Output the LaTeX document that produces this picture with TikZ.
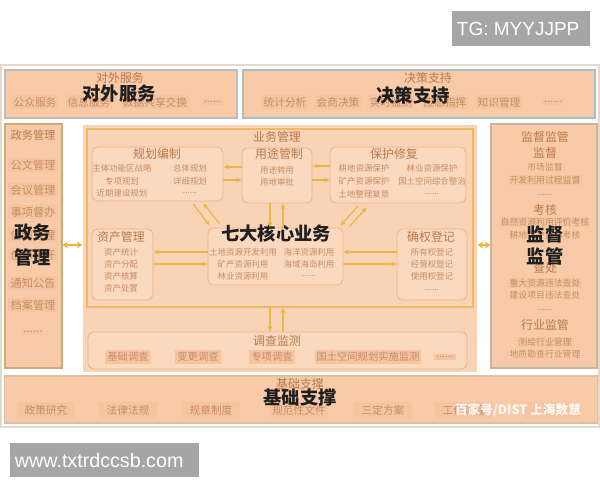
\documentclass[tikz,border=0pt]{standalone}
\usepackage{fontspec}
\setmainfont{Noto Sans CJK SC}
\newfontfamily\wmfont{Liberation Sans}
\usetikzlibrary{positioning, calc, arrows.meta}

\definecolor{peach}{HTML}{F8CAA8}
\definecolor{zonec}{HTML}{F9D3B5}
\definecolor{subfill}{HTML}{FAD9BF}
\definecolor{subline}{HTML}{E6B48C}
\definecolor{itemc}{HTML}{F5C4A0}
\definecolor{txtc}{HTML}{C68D63}
\definecolor{ttlc}{HTML}{B8794C}
\definecolor{bordA}{HTML}{B9BDBF}
\definecolor{bordB}{HTML}{A6BFC0}
\definecolor{bordC}{HTML}{C6AE78}
\definecolor{bordD}{HTML}{C4B4A2}
\definecolor{bordE}{HTML}{D9C2A8}
\definecolor{ywline}{HTML}{F0B865}
\definecolor{arrc}{HTML}{E8B942}
\definecolor{framec}{HTML}{E6D9CC}
\definecolor{wmgray}{HTML}{A6A6A6}

\newcommand\szsmall{\fontsize{6}{7}\selectfont}
\newcommand\szright{\fontsize{6.3}{7.5}\selectfont}
\newcommand\szmid{\fontsize{7.6}{9}\selectfont}
\newcommand\szttl{\fontsize{8.5}{10}\selectfont}
\newcommand\szbig{\fontsize{13}{15}\selectfont\bfseries}
\newcommand\sixdots{......}

\begin{document}
\begin{tikzpicture}[x=0.025cm, y=-0.025cm,
  panel/.style={draw, fill=peach, line width=0.8pt, inner sep=0pt},
  subbox/.style={draw=subline, fill=subfill, rounded corners=4pt, line width=0.6pt, inner sep=0pt},
  ttl/.style={font=\szttl, text=ttlc, inner sep=0pt},
  itm/.style={fill=itemc, text=txtc, inner sep=1.5pt},
  txt/.style={font=\szsmall, text=txtc, inner sep=0pt},
  rtxt/.style={font=\szright, text=txtc, inner sep=0.8pt},
  big/.style={font=\szbig, text=black!88, inner sep=0pt},
  arr/.style={draw=arrc, line width=0.9pt, -{Stealth[length=4pt,width=3.5pt]}},
  dbl/.style={draw=arrc, line width=1.6pt, {Stealth[length=4pt,width=5pt]}-{Stealth[length=4pt,width=5pt]}},
  graybox/.style={fill=wmgray, inner sep=0pt},
  graytxt/.style={font=\wmfont\fontsize{13.5}{15}\selectfont, text=white, inner sep=0pt}]

\useasboundingbox (0,0) rectangle (600,480);

% outer frame
\draw[framec, fill=white, line width=0.8pt] (1,65) rectangle (599,427);

% top: 对外服务
\node[panel, draw=bordA, minimum width=5.8cm, minimum height=1.2cm] (dwfw) at (121,94) {};
\node[ttl] (dwfwt) at (120,78) {对外服务};
\foreach \x/\t [count=\i] in {35/公众服务,89/信息服务,155/数据共享交换,213/\sixdots}
  \node[itm, font=\szmid] (dw\i) at (\x,102) {\t};
\node[big] (dwfwb) at (119,94) {对外服务};

% top: 决策支持
\node[panel, draw=bordB, minimum width=8.8cm, minimum height=1.2cm] (jczc) at (419,94) {};
\node[ttl] (jczct) at (428,78) {决策支持};
\foreach \x/\t [count=\i] in {285/统计分析,338/会商决策,391/实时监测,445/应急指挥,499/知识管理,553/\sixdots}
  \node[itm, font=\szmid] (jc\i) at (\x,102) {\t};
\node[big] (jczcb) at (413,95) {决策支持};

% left: 政务管理
\node[panel, draw=bordC, minimum width=1.425cm, minimum height=6.1cm] (zwgl) at (33.5,246) {};
\node[ttl, font=\fontsize{8}{9}\selectfont] (zwglt) at (33,135) {政务管理};
\foreach \y/\t [count=\i] in {165/公文管理,190/会议管理,212/事项督办,235/信访管理,255/信息公开,283/通知公告,305/档案管理,332/\sixdots}
  \node[itm, font=\fontsize{8}{9}\selectfont] (zw\i) at (33,\y) {\t};
\node[big] (zwglb1) at (33,233) {政务};
\node[big] (zwglb2) at (33,257) {管理};

% centre: 业务管理
\node[panel, draw=none, fill=zonec, minimum width=9.85cm, minimum height=6.175cm] (zone) at (280,248.5) {};
\node[panel, draw=ywline, fill=zonec, minimum width=9.65cm, minimum height=4.45cm] (ywgl) at (280,218) {};
\node[ttl] (ywglt) at (277,137) {业务管理};

\node[subbox, minimum width=3.275cm, minimum height=1.35cm] (ghbz) at (157.5,174) {};
\node[ttl] (ghbzt) at (157,154) {规划编制};
\foreach \y/\a/\b [count=\i] in {168/主体功能区战略/总体规划,181/专项规划/详细规划,193/近期建设规划/\sixdots}{
  \node[txt] (gha\i) at (122,\y) {\a};
  \node[txt] (ghb\i) at (190,\y) {\b};
}

\node[subbox, minimum width=1.75cm, minimum height=1.375cm] (ytgz) at (277,175.5) {};
\node[ttl] (ytgzt) at (279,154) {用途管制};
\node[txt] (yt1) at (277,170) {用途转用};
\node[txt] (yt2) at (277,182) {用地审批};

\node[subbox, minimum width=3.4cm, minimum height=1.4cm] (bhxf) at (398,175) {};
\node[ttl] (bhxft) at (394,154) {保护修复};
\foreach \y/\a/\b [count=\i] in {168/耕地资源保护/林业资源保护,181/矿产资源保护/国土空间综合整治,194/土地整理复垦/\sixdots}{
  \node[txt] (bha\i) at (364,\y) {\a};
  \node[txt] (bhb\i) at (432,\y) {\b};
}

\node[subbox, minimum width=1.525cm, minimum height=1.775cm] (zcgl) at (122.5,264.5) {};
\node[ttl] (zcglt) at (121,237) {资产管理};
\foreach \y/\t [count=\i] in {252/资产统计,264/资产分配,276/资产核算,288/资产处置}
  \node[txt] (zc\i) at (121,\y) {\t};

\node[subbox, minimum width=3.375cm, minimum height=1.425cm] (hx) at (275.5,256.5) {};
\node[big] (hxt) at (276,233) {七大核心业务};
\foreach \y/\a/\b [count=\i] in {252/土地资源开发利用/海洋资源利用,264/矿产资源利用/海域海岛利用,276/林业资源利用/\sixdots}{
  \node[txt] (hxa\i) at (243,\y) {\a};
  \node[txt] (hxb\i) at (309,\y) {\b};
}

\node[subbox, minimum width=1.75cm, minimum height=1.775cm] (qqdj) at (432,264.5) {};
\node[ttl] (qqdjt) at (431,237) {确权登记};
\foreach \y/\t [count=\i] in {252/所有权登记,264/经营权登记,276/使用权登记,290/\sixdots}
  \node[txt] (qq\i) at (432,\y) {\t};

% 调查监测
\node[subbox, minimum width=9.475cm, minimum height=0.925cm] (dcjc) at (277.5,350.5) {};
\node[ttl] (dcjct) at (277,341) {调查监测};
\foreach \x/\t [count=\i] in {128/基础调查,198/变更调查,272/专项调查,368/国土空间规划实施监测,445/\sixdots}
  \node[itm, font=\fontsize{7.3}{9}\selectfont] (dc\i) at (\x,357) {\t};

% right: 监督监管
\node[panel, draw=bordD, minimum width=2.65cm, minimum height=6.1cm] (jdjg) at (544,246) {};
\node[ttl] (jdjgt) at (545,137) {监督监管};
\node[ttl] (jd1) at (545,153) {监督};
\node[rtxt] (jd2) at (545,167) {市场监督};
\node[rtxt, fill=itemc] (jd3) at (545,180) {开发利用过程监督};
\node[rtxt] (jd4) at (545,195) {\sixdots};
\node[ttl] (jd5) at (545,210) {考核};
\node[rtxt, fill=itemc] (jd6) at (545,222) {自然资源利用评价考核};
\node[rtxt] (jd7) at (545,235) {耕地保护目标考核};
\node[ttl] (jd8) at (545,268) {查处};
\node[rtxt, fill=itemc] (jd9) at (545,283) {重大资源违法查处};
\node[rtxt] (jd10) at (545,295) {建设项目违法查处};
\node[rtxt] (jd11) at (545,310) {\sixdots};
\node[ttl] (jd12) at (545,325) {行业监管};
\node[rtxt, fill=itemc] (jd13) at (545,342) {测绘行业管理};
\node[rtxt] (jd14) at (545,354) {地质勘查行业管理};
\node[big] (jdjgb1) at (545,235) {监督};
\node[big] (jdjgb2) at (545,256) {监管};

% bottom: 基础支撑
\node[panel, draw=bordE, minimum width=14.8cm, minimum height=1.175cm] (jczc2) at (301,399.5) {};
\node[ttl] (jczc2t) at (300,384) {基础支撑};
\foreach \x/\t [count=\i] in {46/政策研究,128/法律法规,211/规章制度,299/规范性文件,383/三定方案,464/工作流程,552/\sixdots}
  \node[itm, font=\szmid, minimum width=1.45cm, minimum height=0.42cm] (jz\i) at (\x,410) {\t};
\node[big] (jczc2b) at (300,398) {基础支撑};
\node[font=\fontsize{9}{10}\selectfont\bfseries, text=white, opacity=0.9, inner sep=0pt] (dist) at (518,410) {百家号/DIST 上海数慧};

% arrows
\draw[arr] ($(ytgz.west)+(0,-8.5)$) coordinate (p1) -- (p1 -| ghbz.east);
\draw[arr] ($(ghbz.east)+(0,6)$) coordinate (p2) -- (p2 -| ytgz.west);
\draw[arr] ($(bhxf.west)+(0,-9)$) coordinate (p3) -- (p3 -| ytgz.east);
\draw[arr] ($(ytgz.east)+(0,4.5)$) coordinate (p4) -- (p4 -| bhxf.west);
\draw[arr] ($(ytgz.south)+(-7,0)$) coordinate (p5) -- (p5 |- hx.north);
\draw[arr] ($(hx.north)+(7.5,0)$) coordinate (p6) -- (p6 |- ytgz.south);
\draw[arr] ($(hx.west)+(0,-4.5)$) coordinate (p7) -- (p7 -| zcgl.east);
\draw[arr] ($(zcgl.east)+(0,-0.5)$) coordinate (p8) -- (p8 -| hx.west);
\draw[arr] ($(hx.east)+(0,7.5)$) coordinate (p9) -- (p9 -| qqdj.west);
\draw[arr] ($(qqdj.west)+(0,-12.5)$) coordinate (p10) -- (p10 -| hx.east);
\draw[arr] ($(ywgl.south)+(-10,0)$) coordinate (p11) -- (p11 |- dcjc.north);
\draw[arr] ($(dcjc.north)+(5.5,0)$) coordinate (p12) -- (p12 |- ywgl.south);
\draw[arr] ($(ghbz.south east)+(-30,3)$) -- ($(hx.north west)+(2,-2)$);
\draw[arr] ($(hx.north west)+(12,-4)$) -- ($(ghbz.south east)+(-20,2)$);
\draw[arr] ($(bhxf.south west)+(28,3)$) -- ($(hx.north east)+(-3,-2)$);
\draw[arr] ($(hx.north east)+(6,-1)$) -- ($(bhxf.south west)+(37,4)$);
\draw[dbl] ($(zwgl.east)+(0,-1)$) coordinate (p13) -- (p13 -| zone.west);
\draw[dbl] ($(zone.east)+(0,-3.5)$) coordinate (p14) -- (p14 -| jdjg.west);

% grey labels
\node[graybox, minimum width=3.45cm, minimum height=0.875cm] (tg) at (521,28.5) {};
\node[graytxt, anchor=west] (tgt) at ($(tg.west)+(5,0)$) {TG: MYYJJPP};
\node[graybox, minimum width=4.725cm, minimum height=0.85cm] (web) at (104.5,460) {};
\node[graytxt, font=\wmfont\fontsize{14}{16}\selectfont, anchor=west] (webt) at ($(web.west)+(5,0)$) {www.txtrdccsb.com};
\end{tikzpicture}
\end{document}
